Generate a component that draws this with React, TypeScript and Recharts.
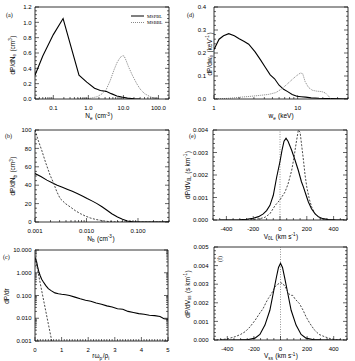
import { LineChart, Line, XAxis, YAxis, ReferenceLine } from "recharts";

const FONT = "'Liberation Sans', Arial, Helvetica, sans-serif";
const SERIF = "'Liberation Serif', 'Times New Roman', serif";

// (a) electron density distribution
const neSolidX = [0.03, 0.05, 0.1, 0.19, 0.54, 0.9, 1.5, 2.2, 3.2, 4.5, 6.5, 9, 13, 20, 30];
const neSolidY = [0.31, 0.56, 0.84, 1.05, 0.31, 0.22, 0.14, 0.11, 0.1, 0.07, 0.04, 0.025, 0.012, 0.004, 0];
const neDotX = [0.5, 1, 1.8, 2.5, 3.2, 4.2, 5.4, 6.5, 8, 9.5, 10.5, 12, 14, 18, 24, 30, 40, 58, 80, 100];
const neDotY = [0, 0.005, 0.03, 0.07, 0.12, 0.24, 0.38, 0.47, 0.54, 0.565, 0.56, 0.5, 0.42, 0.31, 0.2, 0.13, 0.07, 0.03, 0.008, 0];

// (d) energy distribution
const wSolidX = [1, 1.15, 1.3, 1.5, 1.75, 2.0, 2.3, 2.6, 3.1, 3.6, 4.1, 4.7, 5.3, 6.0, 6.8, 7.6, 8.6, 9.8, 11, 12.5, 14.5, 18, 24, 32, 40];
const wSolidY = [0.215, 0.26, 0.275, 0.284, 0.275, 0.262, 0.25, 0.238, 0.205, 0.17, 0.138, 0.105, 0.088, 0.06, 0.042, 0.032, 0.02, 0.012, 0.01, 0.008, 0.005, 0.003, 0.002, 0.001, 0];
const wDotX = [1, 1.5, 2.1, 2.8, 3.6, 4.5, 5.5, 6.5, 7.5, 8.5, 9.6, 10.8, 11.5, 12.3, 13.5, 15, 17, 19.5, 21.5, 23.5, 25];
const wDotY = [0, 0.003, 0.008, 0.012, 0.016, 0.02, 0.028, 0.045, 0.065, 0.083, 0.1, 0.113, 0.11, 0.075, 0.05, 0.038, 0.034, 0.032, 0.026, 0.012, 0];

// (b) beam density distribution
const nbSolidX = [0.001, 0.0013, 0.0017, 0.0022, 0.0027, 0.0034, 0.0042, 0.0053, 0.0066, 0.0083, 0.0103, 0.013, 0.016, 0.02, 0.025, 0.031, 0.04, 0.05, 0.062, 0.078, 0.1, 0.15, 0.4];
const nbSolidY = [52.7, 49.5, 45.5, 42.5, 40, 37.8, 35.6, 33.3, 30.9, 28.3, 25.5, 22.7, 20, 16.5, 12.7, 9, 5.5, 3, 1, 0.3, 0, 0, 0];
const nbDashX = [0.001, 0.00115, 0.00135, 0.0016, 0.00196, 0.00227, 0.00265, 0.00308, 0.0039, 0.00483, 0.006, 0.0076, 0.0095, 0.0118, 0.015, 0.0186, 0.023, 0.029, 0.037, 0.05, 0.4];
const nbDashY = [100, 89, 78, 65, 51, 43, 33, 25.5, 20, 16.4, 12.5, 9.1, 6.5, 4.4, 2.8, 1.8, 1, 0.3, 0.1, 0, 0];

// (e) V_0L distribution
const v0SolidX = [-450, -300, -250, -200, -160, -125, -100, -75, -50, -25, 0, 15, 30, 45, 60, 87, 110, 137, 160, 175, 195, 212, 235, 262, 290, 320, 360, 420, 480];
const v0SolidY = [0, 0.00001, 0.00003, 0.00008, 0.00015, 0.00027, 0.00042, 0.00065, 0.0011, 0.0019, 0.0026, 0.0031, 0.0035, 0.00363, 0.0035, 0.0031, 0.0027, 0.0022, 0.0017, 0.00146, 0.0011, 0.0008, 0.0005, 0.00027, 0.00013, 0.00006, 0.00002, 0, 0];
const v0DashX = [-300, -200, -150, -112, -75, -37, 0, 37, 60, 87, 105, 120, 137, 150, 162, 175, 187, 200, 220, 237, 260, 287, 320, 362, 420];
const v0DashY = [0, 0.00002, 0.00006, 0.00012, 0.00028, 0.00064, 0.0009, 0.00124, 0.0016, 0.0022, 0.0028, 0.0034, 0.004, 0.0039, 0.0033, 0.00266, 0.002, 0.00146, 0.0009, 0.00057, 0.0003, 0.00012, 0.00004, 0, 0];

// (c) radial distribution
const rSolidX = [0, 0.03, 0.06, 0.1, 0.15, 0.2, 0.25, 0.31, 0.4, 0.5, 0.62, 0.75, 0.88, 1.0, 1.15, 1.3, 1.5, 1.7, 1.9, 2.1, 2.3, 2.5, 2.7, 2.9, 3.1, 3.3, 3.5, 3.7, 3.9, 4.1, 4.3, 4.5, 4.7, 4.85, 5.0];
const rSolidY = [4.3, 3.8, 3.05, 1.8, 1.05, 0.72, 0.52, 0.4, 0.28, 0.2, 0.16, 0.13, 0.12, 0.114, 0.108, 0.1, 0.085, 0.072, 0.062, 0.056, 0.047, 0.041, 0.035, 0.031, 0.026, 0.025, 0.02, 0.018, 0.016, 0.015, 0.0135, 0.013, 0.012, 0.0095, 0.009];
const rDashX = [0, 0.1, 0.2, 0.3, 0.4, 0.5, 0.6, 0.7];
const rDashY = [5, 1.3, 0.33, 0.085, 0.022, 0.0057, 0.0015, 0.0004];

// (f) V_ss distribution
const vsSolidX = [-450, -300, -242, -192, -155, -117, -80, -55, -30, -15, 0, 15, 30, 55, 80, 117, 155, 192, 242, 300, 450];
const vsSolidY = [0, 0.00001, 0.00003, 0.0001, 0.0003, 0.0008, 0.0016, 0.0025, 0.0034, 0.0039, 0.00412, 0.0039, 0.0034, 0.0025, 0.0016, 0.0008, 0.0003, 0.0001, 0.00003, 0.00001, 0];
const vsDashX = [-480, -440, -390, -340, -300, -265, -230, -190, -160, -130, -110, -92, -67, -42, -20, 0, 20, 42, 60, 80, 92, 110, 142, 170, 192, 220, 255, 290, 330, 380, 430, 480];
const vsDashY = [0, 0.00002, 0.00008, 0.00018, 0.0003, 0.00045, 0.0007, 0.00107, 0.0014, 0.0017, 0.002, 0.00223, 0.0025, 0.00286, 0.003, 0.00308, 0.00302, 0.00277, 0.0025, 0.0024, 0.0024, 0.0022, 0.00196, 0.0016, 0.00125, 0.0009, 0.00054, 0.0003, 0.00018, 0.00006, 0.00001, 0];

// axis ticks
const neTicks = [0.1, 1, 10, 100];
const wTicks = [1, 10];
const nbTicks = [0.001, 0.01, 0.1];
const velTicks = [-400, -200, 0, 200, 400];
const rTicks = [0, 1, 2, 3, 4, 5];
const pneTicks = [0, 0.2, 0.4, 0.6, 0.8, 1.0, 1.2];
const pwTicks = [0, 0.1, 0.2, 0.3, 0.4];
const pnbTicks = [0, 20, 40, 60, 80, 100];
const pv0Ticks = [0, 0.001, 0.002, 0.003, 0.004];
const prTicks = [0.001, 0.01, 0.1, 1, 10];
const pvsTicks = [0, 0.001, 0.002, 0.003, 0.004, 0.005];

// minor ticks between decades of a log axis
const logMinors = (lo: number, hi: number) => {
  const out: number[] = [];
  for (let d = Math.floor(Math.log10(lo)); d <= Math.ceil(Math.log10(hi)); d++) {
    for (let k = 1; k < 10; k++) {
      const v = k * Math.pow(10, d);
      if (v >= lo * 0.9999 && v <= hi * 1.0001) out.push(v);
    }
  }
  return out;
};
const linMinors = (lo: number, hi: number, step: number) => {
  const out: number[] = [];
  const n = Math.round((hi - lo) / step);
  for (let i = 0; i <= n; i++) out.push(+(lo + i * step).toPrecision(10));
  return out;
};

const isMajor = (v: number, majors: number[]) =>
  majors.some((m) => Math.abs(m - v) <= Math.abs(m) * 1e-6 + 1e-12);

type Fmt = (v: number) => string;

const bottomTick = (majors: number[], fmt: Fmt) => (p: any) => {
  const major = isMajor(p.payload.value, majors);
  return (
    <g>
      <line x1={p.x} x2={p.x} y1={p.y} y2={p.y - (major ? 4 : 2)} stroke="#000" strokeWidth={0.6} />
      {major && (
        <text x={p.x} y={p.y + 11} textAnchor="middle" fontSize={6} fontFamily={FONT} fill="#000">
          {fmt(p.payload.value)}
        </text>
      )}
    </g>
  );
};
const topTick = (majors: number[]) => (p: any) => {
  const major = isMajor(p.payload.value, majors);
  return <line x1={p.x} x2={p.x} y1={p.y} y2={p.y + (major ? 4 : 2)} stroke="#000" strokeWidth={0.6} />;
};
const leftTick = (majors: number[], fmt: Fmt, gap: number) => (p: any) => {
  const major = isMajor(p.payload.value, majors);
  return (
    <g>
      <line x1={p.x} x2={p.x + (major ? 4 : 2)} y1={p.y} y2={p.y} stroke="#000" strokeWidth={0.6} />
      {major && (
        <text x={p.x - gap} y={p.y + 2.2} textAnchor="end" fontSize={6} fontFamily={FONT} fill="#000">
          {fmt(p.payload.value)}
        </text>
      )}
    </g>
  );
};
const rightTick = (majors: number[]) => (p: any) => {
  const major = isMajor(p.payload.value, majors);
  return <line x1={p.x} x2={p.x - (major ? 4 : 2)} y1={p.y} y2={p.y} stroke="#000" strokeWidth={0.6} />;
};

interface Series {
  x: number[];
  y: number[];
  dash?: string;
  color?: string;
  width?: number;
}

interface PanelProps {
  left: number;
  top: number;
  width: number;
  height: number;
  mTop: number;
  mRight: number;
  yWidth: number;
  yGap?: number;
  xDomain: [number, number];
  xLog?: boolean;
  xMajor: number[];
  xAll: number[];
  xFmt: Fmt;
  yDomain: [number, number];
  yLog?: boolean;
  yMajor: number[];
  yAll: number[];
  yFmt: Fmt;
  series: Series[];
  zeroLine?: boolean;
}

function Panel(props: PanelProps) {
  const { xDomain, yDomain, xAll, yAll } = props;
  const xScale = props.xLog ? "log" : "linear";
  const yScale = props.yLog ? "log" : "linear";
  const axisLine = { stroke: "#000", strokeWidth: 0.8 };
  return (
    <div style={{ position: "absolute", left: props.left, top: props.top }}>
      <LineChart
        width={props.width}
        height={props.height}
        margin={{ top: props.mTop, right: props.mRight, left: 0, bottom: 0 }}
      >
        <XAxis xAxisId="b" type="number" dataKey="x" scale={xScale} domain={xDomain} allowDataOverflow
          ticks={xAll} interval={0} tickSize={0} tickMargin={0} height={21} tickLine={false}
          axisLine={axisLine} tick={bottomTick(props.xMajor, props.xFmt)} />
        <XAxis xAxisId="t" orientation="top" mirror type="number" scale={xScale} domain={xDomain} allowDataOverflow
          ticks={xAll} interval={0} tickSize={0} tickMargin={0} tickLine={false}
          axisLine={axisLine} tick={topTick(props.xMajor)} />
        <YAxis yAxisId="l" type="number" scale={yScale} domain={yDomain} allowDataOverflow
          ticks={yAll} interval={0} tickSize={0} tickMargin={0} width={props.yWidth} tickLine={false}
          axisLine={axisLine} tick={leftTick(props.yMajor, props.yFmt, props.yGap ?? 3.5)} />
        <YAxis yAxisId="r" orientation="right" mirror type="number" scale={yScale} domain={yDomain} allowDataOverflow
          ticks={yAll} interval={0} tickSize={0} tickMargin={0} tickLine={false}
          axisLine={axisLine} tick={rightTick(props.yMajor)} />
        {props.zeroLine && (
          <ReferenceLine xAxisId="b" yAxisId="l" x={0} stroke="#777" strokeWidth={0.8} strokeDasharray="1 1.5" />
        )}
        {props.series.map((s, i) => (
          <Line
            key={i}
            xAxisId="b"
            yAxisId="l"
            data={s.x.map((x, j) => ({ x, y: s.y[j] }))}
            dataKey="y"
            type="linear"
            stroke={s.color ?? "#000"}
            strokeWidth={s.width ?? 1}
            strokeDasharray={s.dash}
            dot={false}
            isAnimationActive={false}
          />
        ))}
      </LineChart>
    </div>
  );
}

const fix = (n: number): Fmt => (v) => v.toFixed(n);

// text helpers: subscripts and superscripts via dy shifts
const Sub = ({ t }: { t: string }) => (
  <>
    <tspan dy={1.6} fontSize={4.6}>{t}</tspan>
    <tspan dy={-1.6}>{"\u200a"}</tspan>
  </>
);
const Sup = ({ t }: { t: string }) => (
  <>
    <tspan dy={-2.4} fontSize={4.6}>{t}</tspan>
    <tspan dy={2.4}>{"\u200a"}</tspan>
  </>
);

function Labels() {
  const base = { fontSize: 6.5, fontFamily: FONT, fill: "#000" };
  const yTitle = (x: number, y: number, content: React.ReactNode) => (
    <text {...base} transform={`translate(${x},${y}) rotate(-90)`} textAnchor="middle">{content}</text>
  );
  const xTitle = (x: number, y: number, content: React.ReactNode) => (
    <text {...base} x={x} y={y} textAnchor="middle">{content}</text>
  );
  const tag = (x: number, y: number, t: string) => (
    <text x={x} y={y} fontSize={6} fontFamily={SERIF} fill="#000">{t}</text>
  );
  return (
    <svg width={355} height={361} style={{ position: "absolute", left: 0, top: 0, pointerEvents: "none" }}>
      {tag(6, 17, "(a)")}
      {tag(187, 17, "(d)")}
      {tag(5, 138, "(b)")}
      {tag(189, 138, "(e)")}
      {tag(3, 259, "(c)")}
      <text fontSize={6} fontFamily={SERIF} fill="#000" transform="translate(222,262) rotate(-90)">(f)</text>

      {/* legend of panel (a) */}
      <line x1={131} x2={144} y1={16} y2={16} stroke="#000" strokeWidth={1} />
      <text x={147} y={17.6} fontSize={4.6} fontFamily={SERIF} fill="#000">MSPBL</text>
      <line x1={131} x2={144} y1={22.5} y2={22.5} stroke="#888" strokeWidth={1} strokeDasharray="1 1" />
      <text x={147} y={24.1} fontSize={4.6} fontFamily={SERIF} fill="#000">MSBBL</text>

      {yTitle(14.5, 55, <>dP/dN<Sub t="e" /> (cm<Sup t="3" />)</>)}
      {xTitle(99, 118, <>N<Sub t="e" /> (cm<Sup t="-3" />)</>)}
      {yTitle(211.5, 54, <>dP/dw<Sub t="e" /> (keV<Sup t="-1" />)</>)}
      {xTitle(281, 118, <>w<Sub t="e" /> (keV)</>)}
      {yTitle(15, 176, <>dP/dN<Sub t="b" /> (cm<Sup t="3" />)</>)}
      {xTitle(101, 240.5, <>N<Sub t="b" /> (cm<Sup t="-3" />)</>)}
      {yTitle(189.5, 175, <>dP/dV<Sub t="0L" /> (s km<Sup t="-1" />)</>)}
      {xTitle(281, 238.5, <>V<Sub t="0L" /> (km s<Sup t="-1" />)</>)}
      {yTitle(9, 296, <>dP/dr</>)}
      {xTitle(101, 358, <>rω<Sub t="p" />/ρ<Sub t="i" /></>)}
      {yTitle(189.5, 294, <>dP/dV<Sub t="ss" /> (s km<Sup t="-1" />)</>)}
      {xTitle(281, 358, <>V<Sub t="ss" /> (km s<Sup t="-1" />)</>)}
    </svg>
  );
}

const solid = (x: number[], y: number[]): Series => ({ x, y, width: 1.1 });
const dotted = (x: number[], y: number[]): Series => ({ x, y, dash: "1 1", color: "#777", width: 0.9 });
const dashed = (x: number[], y: number[]): Series => ({ x, y, dash: "2 1.5", color: "#333", width: 0.9 });

export default function App() {
  return (
    <div style={{ position: "fixed", left: 0, top: 0, width: 355, height: 361, background: "#fff", overflow: "hidden" }}>
      <Panel left={0} top={0} width={177} height={120} mTop={7} mRight={8} yWidth={35}
        xDomain={[0.03, 200]} xLog xMajor={neTicks} xAll={logMinors(0.03, 200)} xFmt={fix(1)}
        yDomain={[0, 1.2]} yMajor={pneTicks} yAll={linMinors(0, 1.2, 0.05)} yFmt={fix(1)}
        series={[solid(neSolidX, neSolidY), dotted(neDotX, neDotY)]} />
      <Panel left={177} top={0} width={178} height={120} mTop={7} mRight={7} yWidth={37} yGap={8}
        xDomain={[1, 40]} xLog xMajor={wTicks} xAll={logMinors(1, 40)} xFmt={fix(0)}
        yDomain={[0, 0.4]} yMajor={pwTicks} yAll={linMinors(0, 0.4, 0.02)} yFmt={fix(1)}
        series={[solid(wSolidX, wSolidY), dotted(wDotX, wDotY)]} />
      <Panel left={0} top={120} width={177} height={123} mTop={10} mRight={8} yWidth={35}
        xDomain={[0.001, 0.4]} xLog xMajor={nbTicks} xAll={logMinors(0.001, 0.4)} xFmt={fix(3)}
        yDomain={[0, 100]} yMajor={pnbTicks} yAll={linMinors(0, 100, 5)} yFmt={fix(0)}
        series={[solid(nbSolidX, nbSolidY), dashed(nbDashX, nbDashY)]} />
      <Panel left={177} top={120} width={178} height={121} mTop={10} mRight={8} yWidth={36} yGap={5}
        xDomain={[-500, 500]} xMajor={velTicks} xAll={linMinors(-500, 500, 50)} xFmt={fix(0)}
        yDomain={[0, 0.004]} yMajor={pv0Ticks} yAll={linMinors(0, 0.004, 0.0002)} yFmt={fix(3)}
        zeroLine series={[solid(v0SolidX, v0SolidY), dashed(v0DashX, v0DashY)]} />
      <Panel left={0} top={240} width={177} height={122} mTop={10} mRight={9} yWidth={35}
        xDomain={[0, 5]} xMajor={rTicks} xAll={linMinors(0, 5, 0.1)} xFmt={fix(0)}
        yDomain={[0.001, 10]} yLog yMajor={prTicks} yAll={logMinors(0.001, 10)} yFmt={fix(3)}
        series={[solid(rSolidX, rSolidY), dashed(rDashX, rDashY)]} />
      <Panel left={177} top={240} width={178} height={121} mTop={7} mRight={8} yWidth={37} yGap={5.5}
        xDomain={[-500, 500]} xMajor={velTicks} xAll={linMinors(-500, 500, 50)} xFmt={fix(0)}
        yDomain={[0, 0.005]} yMajor={pvsTicks} yAll={linMinors(0, 0.005, 0.0002)} yFmt={fix(3)}
        zeroLine series={[solid(vsSolidX, vsSolidY), dashed(vsDashX, vsDashY)]} />
      <Labels />
    </div>
  );
}
